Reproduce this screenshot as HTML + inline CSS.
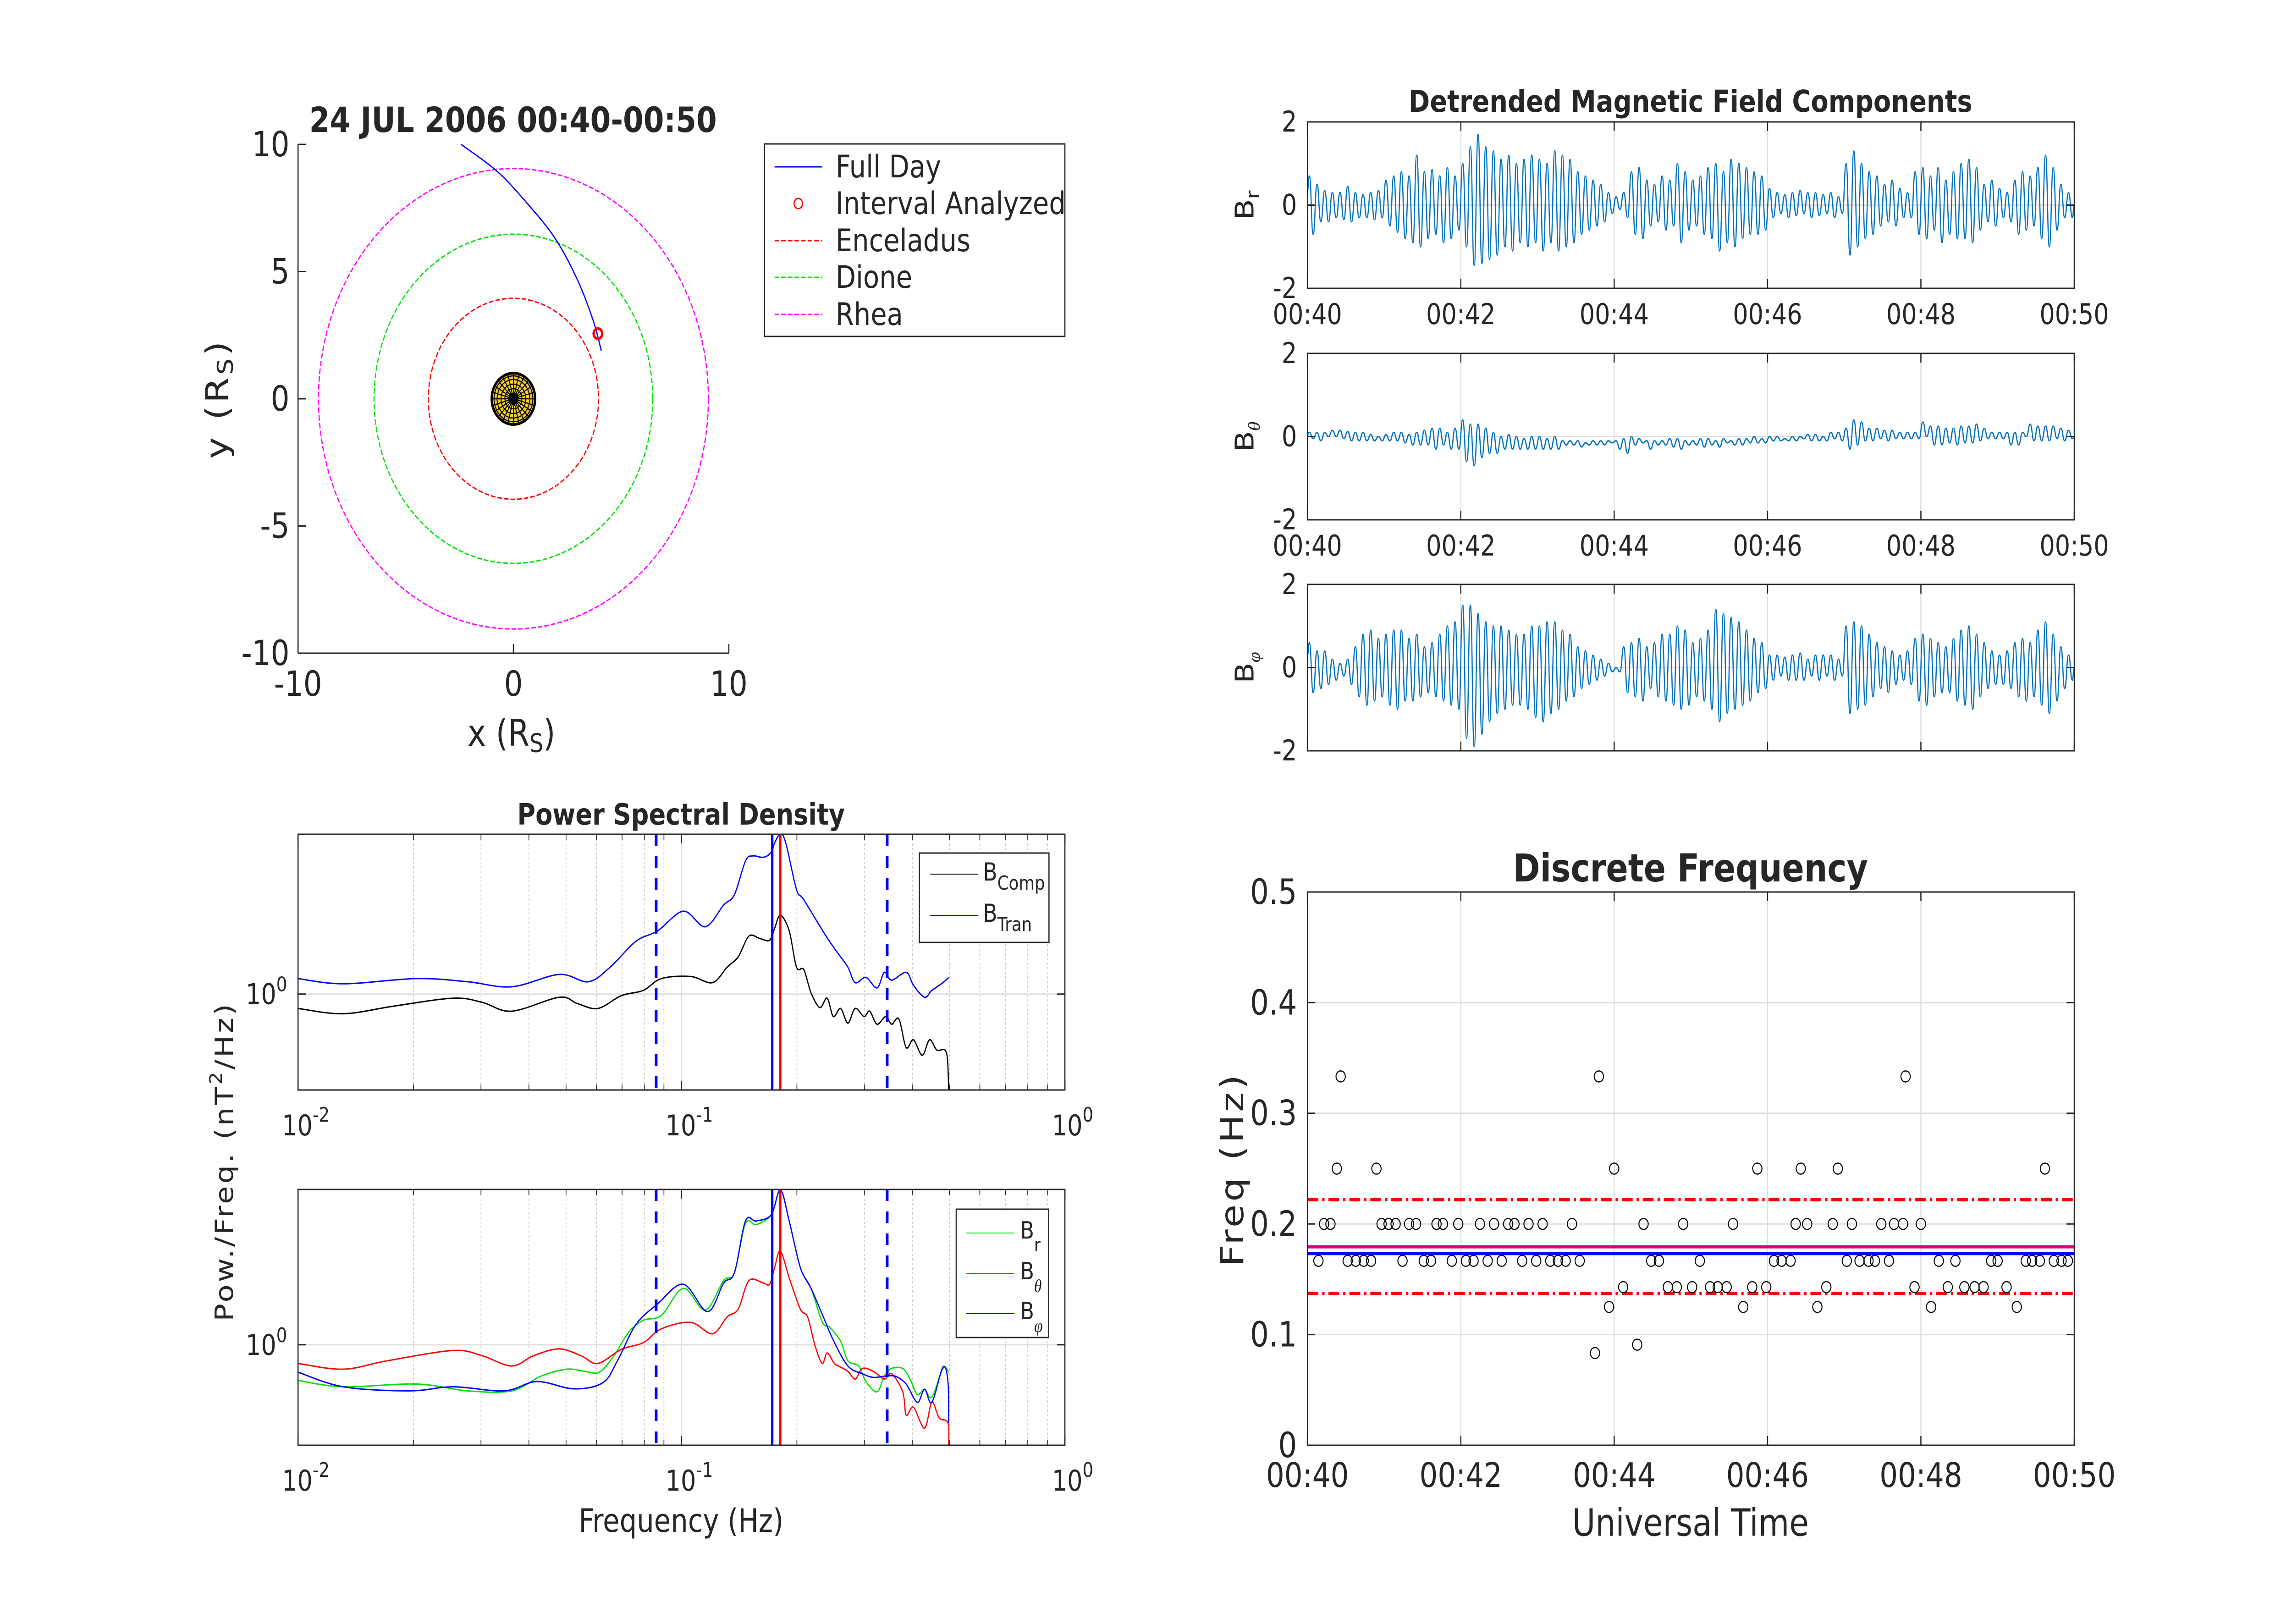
<!DOCTYPE html>
<html><head><meta charset="utf-8">
<style>
html,body{margin:0;padding:0;background:#fff;width:100%;height:100%;overflow:hidden;}
svg{display:block;position:fixed;left:0;top:0;width:100vw;height:100vh;}
text{font-family:"DejaVu Sans","Liberation Sans",sans-serif;fill:#262626;}
</style></head>
<body>
<svg id="fig" xmlns="http://www.w3.org/2000/svg" viewBox="0 0 5906 3543" preserveAspectRatio="none">
<rect width="5906" height="3543" fill="#fff"/>
</svg>
<script>
// ===== Orbit data =====
const trajX = [-2.43,-0.77,0.59,1.94,2.97,3.71,4.08];
const trajY = [10,8.95,7.73,6.3,4.68,3.06,1.89];
const intervalPoint = [3.92,2.56];
const moonNames = ["Enceladus","Dione","Rhea"];
const moonRadii = [3.95,6.47,9.05];
const moonColors = ["#ff0000","#00e000","#ff00ff"];

// ===== Detrended field: peak and trough values per ~6 s cycle =====
const brPeaks = [0.7,0.5,0.35,0.3,0.3,0.45,0.3,0.25,0.3,0.35,0.6,0.7,0.8,0.7,1.2,0.8,0.85,0.7,0.9,0.7,1.0,1.4,1.7,1.4,1.3,1.1,1.2,1.0,1.1,1.2,1.1,1.0,1.3,1.2,1.1,0.8,0.7,0.6,0.5,0.3,0.2,0.3,0.8,0.9,0.6,0.5,0.7,0.6,1.0,0.8,0.6,0.7,0.9,1.0,0.8,1.1,1.0,0.9,0.8,0.7,0.4,0.3,0.25,0.3,0.35,0.3,0.3,0.25,0.3,0.2,1.0,1.3,1.0,0.8,0.7,0.5,0.6,0.4,0.3,0.8,0.9,0.7,0.9,0.6,0.8,1.0,1.1,0.9,0.5,0.6,0.4,0.3,0.6,0.8,0.7,0.9,1.2,0.9,0.5,0.3];
const brTroughs = [-0.7,-0.4,-0.4,-0.3,-0.35,-0.4,-0.3,-0.3,-0.35,-0.3,-0.5,-0.65,-0.8,-0.9,-1.0,-0.8,-0.7,-0.9,-0.8,-0.6,-1.0,-1.45,-1.4,-1.3,-1.2,-1.0,-1.1,-0.9,-1.0,-0.9,-1.1,-0.9,-1.1,-1.0,-0.9,-0.7,-0.6,-0.5,-0.4,-0.2,-0.1,-0.3,-0.7,-0.8,-0.5,-0.4,-0.6,-0.5,-0.9,-0.6,-0.5,-0.7,-0.8,-1.1,-0.9,-1.0,-0.8,-0.7,-0.7,-0.6,-0.3,-0.2,-0.3,-0.25,-0.2,-0.3,-0.25,-0.2,-0.3,-0.2,-1.2,-1.0,-0.8,-0.7,-0.5,-0.4,-0.5,-0.3,-0.3,-0.7,-0.8,-0.6,-0.9,-0.7,-0.8,-0.8,-0.9,-0.6,-0.4,-0.5,-0.3,-0.4,-0.7,-0.6,-0.5,-0.8,-1.0,-0.6,-0.3,-0.3];
const bthPeaks = [0.1,0.1,0.1,0.15,0.15,0.12,0.1,0.1,0.05,0.0,0.05,0.1,0.1,0.05,0.1,0.15,0.2,0.2,0.1,0.2,0.4,0.3,0.3,0.2,0.1,0.0,0.05,0.0,-0.05,0.0,0.0,-0.05,0.0,-0.1,-0.1,-0.1,-0.15,-0.1,-0.1,-0.1,-0.1,-0.05,0.0,-0.05,-0.1,-0.1,-0.1,-0.05,-0.05,-0.1,-0.1,-0.05,-0.05,-0.1,-0.05,-0.1,-0.05,-0.05,0.0,-0.05,0.0,0.0,-0.05,0.0,0.0,0.05,0.05,0.0,0.1,0.1,0.2,0.4,0.35,0.2,0.2,0.15,0.15,0.1,0.1,0.1,0.35,0.25,0.25,0.2,0.2,0.25,0.25,0.3,0.2,0.1,0.1,0.1,0.1,0.1,0.3,0.25,0.25,0.25,0.2,0.15];
const bthTroughs = [-0.05,-0.1,0.0,0.0,-0.05,-0.1,-0.1,-0.1,-0.1,-0.1,-0.1,-0.1,-0.15,-0.2,-0.2,-0.2,-0.3,-0.2,-0.3,-0.3,-0.6,-0.7,-0.5,-0.4,-0.4,-0.3,-0.3,-0.3,-0.3,-0.3,-0.3,-0.3,-0.3,-0.2,-0.2,-0.25,-0.2,-0.2,-0.2,-0.15,-0.3,-0.4,-0.2,-0.15,-0.3,-0.2,-0.2,-0.25,-0.3,-0.2,-0.2,-0.25,-0.2,-0.25,-0.15,-0.2,-0.2,-0.15,-0.15,-0.15,-0.1,-0.1,-0.1,-0.1,-0.05,-0.1,-0.1,-0.1,-0.05,-0.1,-0.3,-0.2,-0.1,-0.1,-0.05,-0.1,-0.05,-0.05,-0.05,-0.05,0.0,-0.2,-0.2,-0.15,-0.2,-0.15,-0.15,-0.1,-0.05,-0.05,-0.05,-0.2,-0.2,0.0,-0.1,-0.1,-0.1,-0.05,-0.1,-0.05];
const bphPeaks = [0.6,0.4,0.4,0.2,0.1,0.2,0.5,0.8,0.9,0.7,0.8,0.9,0.9,0.7,0.8,0.5,0.6,0.8,1.0,1.1,1.5,1.5,1.3,1.1,1.0,1.0,0.9,0.8,0.8,1.0,1.0,1.1,1.1,0.9,0.8,0.5,0.4,0.3,0.2,0.1,0.0,0.5,0.6,0.7,0.5,0.6,0.8,0.8,1.0,0.9,0.6,0.7,0.9,1.4,1.3,1.2,1.1,0.9,0.7,0.6,0.3,0.3,0.25,0.3,0.35,0.2,0.3,0.3,0.3,0.2,1.0,1.1,1.0,0.8,0.6,0.5,0.4,0.3,0.4,0.7,0.8,0.7,0.6,0.5,0.7,0.9,1.0,0.8,0.6,0.4,0.3,0.4,0.6,0.7,0.6,0.9,1.1,0.8,0.5,0.3];
const bphTroughs = [-0.6,-0.5,-0.4,-0.3,-0.2,-0.4,-0.7,-0.9,-0.8,-0.7,-0.9,-1.0,-0.8,-0.8,-0.7,-0.6,-0.7,-0.8,-0.9,-1.0,-1.7,-1.9,-1.6,-1.3,-1.1,-1.0,-0.9,-0.9,-1.0,-1.2,-1.3,-1.1,-1.0,-0.8,-0.7,-0.5,-0.4,-0.3,-0.2,-0.1,-0.1,-0.6,-0.7,-0.8,-0.5,-0.7,-0.8,-0.9,-1.0,-0.9,-0.7,-0.8,-1.0,-1.3,-1.1,-1.0,-0.9,-0.8,-0.6,-0.5,-0.3,-0.2,-0.3,-0.3,-0.3,-0.2,-0.3,-0.2,-0.3,-0.2,-1.1,-1.0,-0.9,-0.7,-0.5,-0.6,-0.4,-0.3,-0.4,-0.8,-0.9,-0.7,-0.6,-0.6,-0.8,-0.9,-1.0,-0.7,-0.5,-0.4,-0.4,-0.5,-0.7,-0.8,-0.7,-0.9,-1.1,-0.8,-0.5,-0.3];
const timeTickLabels = ["00:40","00:42","00:44","00:46","00:48","00:50"];

// ===== PSD data (log10 frequency, log10 power) =====
const tranLogF = [-2.000,-1.882,-1.691,-1.558,-1.443,-1.319,-1.243,-1.186,-1.119,-1.062,-0.995,-0.938,-0.890,-0.862,-0.833,-0.814,-0.786,-0.766,-0.757,-0.742,-0.728,-0.700,-0.681,-0.623,-0.595,-0.566,-0.547,-0.519,-0.490,-0.471,-0.452,-0.414,-0.395,-0.366,-0.347,-0.318,-0.303];
const tranLogP = [0.068,0.045,0.068,0.054,0.032,0.086,0.054,0.118,0.231,0.277,0.363,0.295,0.390,0.435,0.583,0.605,0.599,0.621,0.662,0.701,0.662,0.458,0.413,0.254,0.186,0.118,0.050,0.073,0.027,0.095,0.061,0.095,0.039,-0.014,0.016,0.050,0.073];
const compLogF = [-2.000,-1.882,-1.748,-1.596,-1.520,-1.443,-1.319,-1.272,-1.218,-1.157,-1.100,-1.052,-0.976,-0.919,-0.881,-0.852,-0.824,-0.795,-0.770,-0.757,-0.742,-0.719,-0.700,-0.681,-0.662,-0.639,-0.620,-0.604,-0.585,-0.566,-0.547,-0.524,-0.509,-0.490,-0.467,-0.452,-0.433,-0.414,-0.395,-0.372,-0.353,-0.334,-0.309,-0.303];
const compLogP = [-0.063,-0.086,-0.052,-0.018,-0.036,-0.075,-0.014,-0.041,-0.063,-0.007,0.016,0.068,0.077,0.050,0.118,0.163,0.254,0.243,0.236,0.288,0.345,0.277,0.118,0.107,0.005,-0.059,-0.018,-0.098,-0.063,-0.127,-0.063,-0.098,-0.075,-0.132,-0.098,-0.132,-0.109,-0.234,-0.200,-0.268,-0.200,-0.245,-0.256,-0.420];
const brLogF = [-2.000,-1.882,-1.691,-1.558,-1.443,-1.367,-1.300,-1.253,-1.214,-1.176,-1.138,-1.100,-1.052,-0.995,-0.938,-0.890,-0.862,-0.833,-0.805,-0.766,-0.742,-0.719,-0.690,-0.662,-0.633,-0.614,-0.585,-0.566,-0.538,-0.519,-0.490,-0.471,-0.452,-0.423,-0.404,-0.385,-0.366,-0.347,-0.318,-0.303];
const brLogP = [-0.156,-0.184,-0.172,-0.202,-0.202,-0.138,-0.107,-0.116,-0.120,-0.048,0.054,0.107,0.129,0.247,0.152,0.281,0.315,0.531,0.526,0.569,0.678,0.542,0.338,0.247,0.100,0.077,0.016,-0.070,-0.093,-0.161,-0.206,-0.138,-0.104,-0.104,-0.150,-0.218,-0.195,-0.229,-0.104,-0.120];
const bthLogF = [-2.000,-1.882,-1.767,-1.596,-1.520,-1.443,-1.386,-1.319,-1.262,-1.218,-1.157,-1.100,-1.052,-0.976,-0.919,-0.881,-0.852,-0.824,-0.786,-0.770,-0.757,-0.742,-0.719,-0.690,-0.671,-0.652,-0.633,-0.620,-0.601,-0.585,-0.566,-0.547,-0.528,-0.500,-0.471,-0.452,-0.423,-0.414,-0.395,-0.366,-0.347,-0.328,-0.305,-0.303];
const bthLogP = [-0.082,-0.107,-0.070,-0.025,-0.048,-0.093,-0.048,-0.018,-0.048,-0.082,-0.020,0.009,0.070,0.098,0.048,0.122,0.156,0.281,0.270,0.265,0.338,0.410,0.293,0.156,0.122,-0.002,-0.082,-0.036,-0.082,-0.098,-0.116,-0.150,-0.104,-0.116,-0.150,-0.127,-0.206,-0.308,-0.274,-0.365,-0.252,-0.320,-0.342,-0.440];
const bphLogF = [-2.000,-1.882,-1.710,-1.596,-1.462,-1.377,-1.281,-1.205,-1.167,-1.119,-1.062,-0.995,-0.932,-0.890,-0.862,-0.833,-0.805,-0.766,-0.742,-0.719,-0.690,-0.662,-0.633,-0.604,-0.566,-0.528,-0.500,-0.471,-0.442,-0.414,-0.385,-0.366,-0.347,-0.318,-0.305,-0.303];
const bphLogP = [-0.120,-0.184,-0.202,-0.184,-0.202,-0.161,-0.193,-0.166,-0.070,0.088,0.179,0.265,0.145,0.270,0.315,0.542,0.542,0.569,0.678,0.542,0.338,0.247,0.134,0.020,-0.093,-0.127,-0.143,-0.138,-0.138,-0.172,-0.252,-0.195,-0.252,-0.098,-0.161,-0.342];
const psdBandFreqs = [0.0859,0.344];
const psdPeakBlue = 0.1725;
const psdPeakRed = 0.181;

// ===== Discrete frequency data =====
const dfTimes = [8.6,31.5,37.8,44,49.8,74.4,91,96.7,113,124,130,141,152,168,179,190,196,202,213,269,275,307,365,371,378,422,432,439,444,455,494,507,535,540,562,567,573,584,590,595,
13,18,58,63.5,69,79.5,85,101,106,118,135,146,157,162,173,184,207,263,294,333,382,391,411,426,449,459,466,480,
23,54,240,352,386,415,577,
26,228,468,
247,282,289,301,315,321,328,348,359,406,475,501,514,522,529,547,
236,341,399,488,555,
258,225];
const dfFreqs = [].concat(
 Array(40).fill(0.1667), Array(28).fill(0.2), Array(7).fill(0.25), Array(3).fill(0.3333),
 Array(16).fill(0.1429), Array(5).fill(0.125), [0.0909,0.0833]);
const dfBands = [0.2219,0.1372];
const dfMeanMagenta = 0.1793;
const dfMeanBlue = 0.1732;
const dfYTicks = [0,0.1,0.2,0.3,0.4,0.5];
const dfYTickLabels = ["0","0.1","0.2","0.3","0.4","0.5"];

// ===== helpers =====
const NS="http://www.w3.org/2000/svg";
const svg=document.getElementById('fig');
function el(tag,attrs,parent){const e=document.createElementNS(NS,tag);for(const k in attrs)e.setAttribute(k,attrs[k]);(parent||svg).appendChild(e);return e;}
function txt(s,x,y,size,opts,parent){opts=opts||{};const t=el('text',{x:x,y:y,'font-size':size,'text-anchor':opts.anchor||'middle','dominant-baseline':opts.base||'central'},parent);if(opts.bold)t.setAttribute('font-weight','bold');if(opts.rot)t.setAttribute('transform','rotate('+opts.rot+' '+x+' '+y+')');if(opts.ls)t.setAttribute('letter-spacing',opts.ls);t.textContent=s;return t;}
function smoothPath(P){
 let d='M'+P[0][0].toFixed(1)+' '+P[0][1].toFixed(1);
 for(let i=0;i<P.length-1;i++){
  const p0=P[Math.max(0,i-1)],p1=P[i],p2=P[i+1],p3=P[Math.min(P.length-1,i+2)];
  const c1x=p1[0]+(p2[0]-p0[0])/6,c1y=p1[1]+(p2[1]-p0[1])/6;
  const c2x=p2[0]-(p3[0]-p1[0])/6,c2y=p2[1]-(p3[1]-p1[1])/6;
  d+='C'+c1x.toFixed(1)+' '+c1y.toFixed(1)+' '+c2x.toFixed(1)+' '+c2y.toFixed(1)+' '+p2[0].toFixed(1)+' '+p2[1].toFixed(1);
 }
 return d;
}
const AX='#262626', GRID='#dfdfdf';

// ===== Orbit plot =====
(function(){
 const L=768,R=1878,T=315,B=1425;
 const sx=v=>1323+v*55.5, sy=v=>870-v*55.5;
 const g=el('g',{});
 
 
 txt('24 JUL 2006 00:40-00:50',1322,262,76,{bold:true});
 moonRadii.forEach((r,i)=>{
  const c=el('circle',{cx:sx(0),cy:sy(0),r:r*55.5,fill:'none',stroke:moonColors[i],'stroke-width':3,'stroke-dasharray':'12 5'},g);
  
  
 });
 const sat=el('g',{},g);
 
 
 el('circle',{cx:1323,cy:870,r:56,fill:'#f2c230',stroke:'#000','stroke-width':6},sat);
 el('circle',{cx:1323,cy:870,r:44,fill:'#f7d020',stroke:'none'},sat);
 el('circle',{cx:1323,cy:870,r:26,fill:'#fbe31a',stroke:'none'},sat);
 [12,22,32,42,50].forEach(r=>el('circle',{cx:1323,cy:870,r:r,fill:'none',stroke:'#000','stroke-width':2.5},sat));
 for(let k=0;k<24;k++){const a=k*Math.PI/12;el('line',{x1:1323,y1:870,x2:1323+54*Math.cos(a),y2:870+54*Math.sin(a),stroke:'#000','stroke-width':2.5},sat);}
 el('circle',{cx:1323,cy:870,r:8,fill:'#000'},sat);
 const tp=trajX.map((x,i)=>[sx(x),sy(trajY[i])]);
 const tr=el('path',{d:smoothPath(tp),fill:'none',stroke:'#0000ff','stroke-width':3},g);
 
 
 const ip=el('circle',{cx:sx(intervalPoint[0]),cy:sy(intervalPoint[1]),r:11,fill:'none',stroke:'#ff0000','stroke-width':6},g);
 
 
 el('line',{x1:L,y1:T,x2:L,y2:B,stroke:AX,'stroke-width':3},g);
 el('line',{x1:L,y1:B,x2:R,y2:B,stroke:AX,'stroke-width':3},g);
 [-10,-5,0,5,10].forEach(v=>{el('line',{x1:L,y1:sy(v),x2:L+20,y2:sy(v),stroke:AX,'stroke-width':3},g);txt(String(v),L-22,sy(v),76,{anchor:'end'},g);});
 [-10,0,10].forEach(v=>{el('line',{x1:sx(v),y1:B,x2:sx(v),y2:B-20,stroke:AX,'stroke-width':3},g);txt(String(v),sx(v),1492,76,{},g);});
 const xl=el('text',{x:1318,y:1600,'font-size':80,'text-anchor':'middle','dominant-baseline':'central'},g);
 xl.innerHTML='x (R<tspan font-size="56" dy="22">S</tspan><tspan dy="-22">)</tspan>';
 
 const yl=el('text',{x:560,y:870,'font-size':80,'text-anchor':'middle','dominant-baseline':'central',transform:'rotate(-90 560 870)','letter-spacing':'6'},g);
 yl.innerHTML='y (R<tspan font-size="56" dy="22">S</tspan><tspan dy="-22">)</tspan>';
 
 const lg=el('g',{},g);
 
 
 el('rect',{x:1970,y:314,width:774,height:420,fill:'#fff',stroke:AX,'stroke-width':3},lg);
 const labels=['Full Day','Interval Analyzed','Enceladus','Dione','Rhea'];
 const ys=[364,444,525,605,686];
 labels.forEach((s,i)=>{
  const y=ys[i];
  if(i===0) el('line',{x1:1996,y1:y,x2:2119,y2:y,stroke:'#0000ff','stroke-width':3},lg);
  else if(i===1) el('circle',{cx:2057,cy:y,r:11,fill:'none',stroke:'#ff0000','stroke-width':3},lg);
  else el('line',{x1:1996,y1:y,x2:2119,y2:y,stroke:moonColors[i-2],'stroke-width':3,'stroke-dasharray':'12 5'},lg);
  const t=txt(s,2153,y,68,{anchor:'start'},lg);
  
 });
})();

// ===== Detrended field panels =====
(function(){
 const L=3369,R=5345;
 const tops=[266,771,1275], H=363;
 const series=[[brPeaks,brTroughs,'r'],[bthPeaks,bthTroughs,'θ'],[bphPeaks,bphTroughs,'φ']];
 const names=['br','btheta','bphi'];
 txt('Detrended Magnetic Field Components',4356,222,66,{bold:true});
 const tx=t=>L+(t/600)*(R-L);
 series.forEach((s,pi)=>{
  const T=tops[pi],B=T+H;
  const ty=v=>T+H/2-v*(H/4);
  const g=el('g',{});
  
  
  for(let k=1;k<5;k++) el('line',{x1:tx(k*120),y1:T,x2:tx(k*120),y2:B,stroke:GRID,'stroke-width':3},g);
  el('line',{x1:L,y1:ty(0),x2:R,y2:ty(0),stroke:GRID,'stroke-width':3},g);
  const pts=[];
  const pk=s[0],tr=s[1];
  for(let i=0;i<pk.length;i++){pts.push([i*6+1.5,pk[i]]);pts.push([i*6+4.5,tr[i]]);}
  let d='M'+tx(0)+' '+ty(pts[0][1]*0.5).toFixed(1);
  let px=tx(0),py=ty(pts[0][1]*0.5);
  pts.forEach(p=>{const x=tx(p[0]),y=ty(p[1]);const dx=(x-px)/2;d+='C'+(px+dx).toFixed(1)+' '+py.toFixed(1)+' '+(x-dx).toFixed(1)+' '+y.toFixed(1)+' '+x.toFixed(1)+' '+y.toFixed(1);px=x;py=y;});
  const xe=tx(600),ye=ty(0);d+='C'+((px+xe)/2).toFixed(1)+' '+py.toFixed(1)+' '+((px+xe)/2).toFixed(1)+' '+ye+' '+xe+' '+ye;
  const w=el('path',{d:d,fill:'none',stroke:'#0072bd','stroke-width':3},g);
  
  
  el('rect',{x:L,y:T,width:R-L,height:H,fill:'none',stroke:AX,'stroke-width':3},g);
  [2,0,-2].forEach(v=>{el('line',{x1:L,y1:ty(v),x2:L+20,y2:ty(v),stroke:AX,'stroke-width':3},g);el('line',{x1:R,y1:ty(v),x2:R-20,y2:ty(v),stroke:AX,'stroke-width':3},g);txt(String(v),3342,ty(v),62,{anchor:'end'},g);});
  for(let k=0;k<=5;k++){el('line',{x1:tx(k*120),y1:B,x2:tx(k*120),y2:B-20,stroke:AX,'stroke-width':3},g);el('line',{x1:tx(k*120),y1:T,x2:tx(k*120),y2:T+20,stroke:AX,'stroke-width':3},g);}
  if(pi<2) timeTickLabels.forEach((s2,k)=>txt(s2,tx(k*120),B+57,62,{},g));
  const yl=el('text',{x:3230,y:T+H/2,'font-size':66,'text-anchor':'middle',transform:'rotate(-90 3230 '+(T+H/2)+')'},g);
  const sub = s[2]==='r' ? '<tspan font-size="46" dy="14">r</tspan>' : '<tspan font-size="42" dy="16" font-style="italic" font-family="Liberation Serif, serif">'+s[2]+'</tspan>';
  yl.innerHTML='B'+sub;
  
 });
})();

// ===== PSD panels =====
(function(){
 const L=768,R=2744;
 const fx=lf=>L+(lf+2)/2*(R-L);
 const panels=[{T:1820,B:2378,lo:-0.42,hi:0.70,curves:[[compLogF,compLogP,'#000','b-comp'],[tranLogF,tranLogP,'#0000ff','b-tran']]},
               {T:2595,B:3153,lo:-0.44,hi:0.68,curves:[[brLogF,brLogP,'#00e000','b-r'],[bthLogF,bthLogP,'#ff0000','b-theta'],[bphLogF,bphLogP,'#0000ff','b-phi']]}];
 txt('Power Spectral Density',1755,1777,64,{bold:true});
 panels.forEach((p,pi)=>{
  const fy=v=>p.T+(p.hi-v)/(p.hi-p.lo)*(p.B-p.T);
  const g=el('g',{});
  
  
  const cp=el('clipPath',{id:'cp'+pi},g);el('rect',{x:L,y:p.T,width:R-L,height:p.B-p.T},cp);
  for(let dec=-2;dec<0;dec++){for(let m=2;m<=9;m++){const x=fx(dec+Math.log10(m));el('line',{x1:x,y1:p.T,x2:x,y2:p.B,stroke:'#c8c8c8','stroke-width':2,'stroke-dasharray':'5 5'},g);el('line',{x1:x,y1:p.B,x2:x,y2:p.B-12,stroke:AX,'stroke-width':2},g);el('line',{x1:x,y1:p.T,x2:x,y2:p.T+12,stroke:AX,'stroke-width':2},g);}}
  el('line',{x1:fx(-1),y1:p.T,x2:fx(-1),y2:p.B,stroke:GRID,'stroke-width':3},g);
  el('line',{x1:L,y1:fy(0),x2:R,y2:fy(0),stroke:GRID,'stroke-width':3},g);
  const cg=el('g',{'clip-path':'url(#cp'+pi+')'},g);
  p.curves.forEach(c=>{
   const P=c[0].map((lf,i)=>[fx(lf),fy(c[1][i])]);
   const pa=el('path',{d:smoothPath(P),fill:'none',stroke:c[2],'stroke-width':3,'stroke-linejoin':'round'},cg);
   
   
  });
  psdBandFreqs.forEach(f=>{const x=fx(Math.log10(f));const l=el('line',{x1:x,y1:p.T,x2:x,y2:p.B,stroke:'#0000ff','stroke-width':7,'stroke-dasharray':'25 23'},g);});
  const xb=fx(Math.log10(psdPeakBlue)),xr=fx(Math.log10(psdPeakRed));
  el('line',{x1:xb,y1:p.T,x2:xb,y2:p.B,stroke:'#0000ff','stroke-width':6},g);
  el('line',{x1:xr,y1:p.T,x2:xr,y2:p.B,stroke:'#ff0000','stroke-width':6},g);
  el('rect',{x:L,y:p.T,width:R-L,height:p.B-p.T,fill:'none',stroke:AX,'stroke-width':3},g);
  el('line',{x1:L,y1:fy(0),x2:L+20,y2:fy(0),stroke:AX,'stroke-width':3},g);
  el('line',{x1:R,y1:fy(0),x2:R-20,y2:fy(0),stroke:AX,'stroke-width':3},g);
  const yt=el('text',{x:740,y:fy(0)+22,'font-size':62,'text-anchor':'end'},g);yt.innerHTML='10<tspan font-size="44" dy="-28">0</tspan>';
  [-2,-1,0].forEach(dec=>{const x=fx(dec);el('line',{x1:x,y1:p.B,x2:x,y2:p.B-20,stroke:AX,'stroke-width':3},g);el('line',{x1:x,y1:p.T,x2:x,y2:p.T+20,stroke:AX,'stroke-width':3},g);
   const t=el('text',{x:x+20,y:p.B+99,'font-size':62,'text-anchor':'middle'},g);t.innerHTML='10<tspan font-size="44" dy="-30">'+String(dec)+'</tspan>';});
  const lg=el('g',{},g);
  
  
  if(pi===0){
   el('rect',{x:2369,y:1861,width:334,height:195,fill:'#fff',stroke:AX,'stroke-width':3},lg);
   [[1907,'#000','Comp'],[1997,'#0000ff','Tran']].forEach(e=>{el('line',{x1:2397,y1:e[0],x2:2520,y2:e[0],stroke:e[1],'stroke-width':2},lg);const t=el('text',{x:2533,y:e[0]+14,'font-size':54,'text-anchor':'start'},lg);t.innerHTML='B<tspan font-size="42" dy="20">'+e[2]+'</tspan>';});
  } else {
   el('rect',{x:2464,y:2638,width:238,height:280,fill:'#fff',stroke:AX,'stroke-width':3},lg);
   [[2690,'#00e000','r',false],[2779,'#ff0000','θ',true],[2866,'#0000ff','φ',true]].forEach(e=>{el('line',{x1:2490,y1:e[0],x2:2614,y2:e[0],stroke:e[1],'stroke-width':2},lg);const t=el('text',{x:2629,y:e[0]+12,'font-size':52,'text-anchor':'start'},lg);t.innerHTML='B<tspan font-size="40" dy="28"'+(e[3]?' font-style="italic" font-family="Liberation Serif, serif"':'')+'>'+e[2]+'</tspan>';});
  }
 });
 txt('Frequency (Hz)',1755,3319,70,{});
 const yl=el('text',{x:600,y:2534,'font-size':64,'text-anchor':'middle','letter-spacing':'5',transform:'rotate(-90 600 2534)'});
 yl.innerHTML='Pow./Freq. (nT<tspan font-size="44" dy="-28">2</tspan><tspan dy="28">/Hz)</tspan>';
 
})();

// ===== Discrete frequency =====
(function(){
 const L=3369,R=5345,T=1946,B=3153;
 const tx=t=>L+t/600*(R-L), ty=v=>B-v/0.5*(B-T);
 const g=el('g',{});
 
 
 txt('Discrete Frequency',4356,1895,84,{bold:true},g);
 for(let k=1;k<5;k++) el('line',{x1:tx(k*120),y1:T,x2:tx(k*120),y2:B,stroke:GRID,'stroke-width':3},g);
 dfYTicks.forEach(v=>{if(v>0&&v<0.5) el('line',{x1:L,y1:ty(v),x2:R,y2:ty(v),stroke:GRID,'stroke-width':3},g);});
 dfBands.forEach(v=>{const l=el('line',{x1:L,y1:ty(v),x2:R,y2:ty(v),stroke:'#ff0000','stroke-width':7,'stroke-dasharray':'28 10 6 10'},g);});
 const lm=el('line',{x1:L,y1:ty(dfMeanMagenta),x2:R,y2:ty(dfMeanMagenta),stroke:'#e0007f','stroke-width':7},g);
 
 
 const lb=el('line',{x1:L,y1:ty(dfMeanBlue),x2:R,y2:ty(dfMeanBlue),stroke:'#0000ff','stroke-width':7},g);
 
 
 dfTimes.forEach((t,i)=>{
  const c=el('circle',{cx:tx(t).toFixed(1),cy:ty(dfFreqs[i]).toFixed(1),r:12,fill:'none',stroke:'#000','stroke-width':2.5},g);
  
  
 });
 el('rect',{x:L,y:T,width:R-L,height:B-T,fill:'none',stroke:AX,'stroke-width':3},g);
 dfYTicks.forEach((v,i)=>{el('line',{x1:L,y1:ty(v),x2:L+20,y2:ty(v),stroke:AX,'stroke-width':3},g);el('line',{x1:R,y1:ty(v),x2:R-20,y2:ty(v),stroke:AX,'stroke-width':3},g);txt(dfYTickLabels[i],3342,ty(v),76,{anchor:'end'},g);});
 timeTickLabels.forEach((s,k)=>{const x=tx(k*120);el('line',{x1:x,y1:B,x2:x,y2:B-20,stroke:AX,'stroke-width':3},g);el('line',{x1:x,y1:T,x2:x,y2:T+20,stroke:AX,'stroke-width':3},g);txt(s,x,3219,74,{},g);});
 txt('Universal Time',4356,3322,82,{},g);
 txt('Freq (Hz)',3175,2551,82,{rot:-90,ls:'6'},g);
})();
</script>
</body></html>
